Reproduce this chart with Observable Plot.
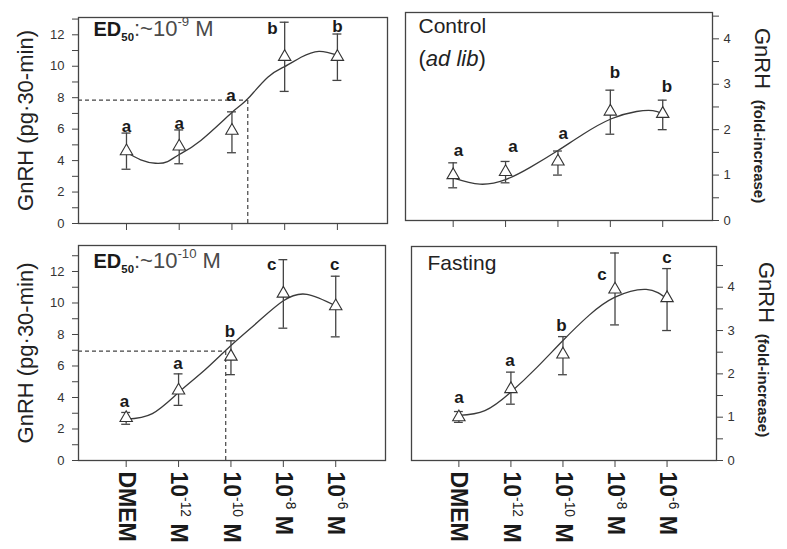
<!DOCTYPE html>
<html><head><meta charset="utf-8">
<script src="https://cdn.jsdelivr.net/npm/d3@7"></script>
<script src="https://cdn.jsdelivr.net/npm/@observablehq/plot@0.6"></script>
<style>
body{margin:0;background:#fff;}
#chart{position:relative;width:787px;height:549px;overflow:hidden;background:#fff;font-family:"Liberation Sans",Arial,sans-serif;}
#chart svg{position:absolute;}
</style></head><body><div id="chart"></div>
<script>
// ---- categories / tick labels ----
const categories = ["DMEM", "10{n.sup:-12} M", "10{n.sup:-10} M", "10{n.sup:-8} M", "10{n.sup:-6} M"];
const catIndex = [0, 1, 2, 3, 4];
const pgTicks = [0, 2, 4, 6, 8, 10, 12];
const pgMinor = [1, 3, 5, 7, 9, 11, 13];
const foldTicks = [0, 1, 2, 3, 4];
const foldMinor = [0.5, 1.5, 2.5, 3.5, 4.5];

// ---- top-left: ad lib, pg/30-min ----
const adlibPgMean = [4.6, 4.9, 5.9, 10.6, 10.6];
const adlibPgHi   = [5.75, 5.95, 7.1, 12.8, 12.05];
const adlibPgLo   = [3.45, 3.8, 4.5, 8.4, 9.1];
const adlibPgLetters = ["a", "a", "a", "b", "b"];
const adlibPgLetterX = [0, 1, 1.98, 2.77, 4];
const adlibPgLetterY = [5.8, 6.0, 7.8, 12.05, 12.15];
const adlibPgCurveX = [0, 0.27, 0.55, 0.78, 1, 1.41, 2.04, 2.3, 2.68, 3.0, 3.31, 3.65, 4];
const adlibPgCurveY = [4.53, 4.05, 3.83, 3.94, 4.39, 5.28, 7.18, 7.93, 9.3, 9.98, 10.57, 10.95, 10.7];
const adlibEd50 = {x: 2.3, y: 7.85};
const adlibPgNote = "{k.b.s20:ED}{k.b.sub:50}:~10{sup:-9} M";

// ---- top-right: ad lib, fold increase ----
const adlibFoldMean = [1.0, 1.07, 1.3, 2.4, 2.35];
const adlibFoldHi   = [1.27, 1.3, 1.53, 2.87, 2.65];
const adlibFoldLo   = [0.72, 0.83, 1.0, 1.9, 2.0];
const adlibFoldLetters = ["a", "a", "a", "b", "b"];
const adlibFoldLetterX = [0.1, 1.14, 2.1, 3.09, 4.08];
const adlibFoldLetterY = [1.43, 1.5, 1.8, 3.13, 2.82];
const adlibFoldCurveX = [0, 0.51, 1, 1.47, 2, 2.48, 3.02, 3.5, 3.81, 4];
const adlibFoldCurveY = [0.94, 0.8, 0.9, 1.17, 1.54, 1.9, 2.24, 2.4, 2.42, 2.35];

// ---- bottom-left: fasting, pg/30-min ----
const fastPgMean = [2.7, 4.45, 6.6, 10.6, 9.8];
const fastPgHi   = [3.05, 5.5, 7.6, 12.75, 11.7];
const fastPgLo   = [2.3, 3.5, 5.45, 8.4, 7.85];
const fastPgLetters = ["a", "a", "b", "c", "c"];
const fastPgLetterX = [-0.03, 0.99, 1.98, 2.78, 3.98];
const fastPgLetterY = [3.37, 5.8, 7.85, 12.1, 12.1];
const fastPgCurveX = [0, 0.5, 1, 1.5, 2, 2.5, 3, 3.45, 4];
const fastPgCurveY = [2.63, 2.98, 4.32, 5.74, 7.3, 8.76, 10.14, 10.55, 9.82];
const fastEd50 = {x: 1.9, y: 6.95};
const fastPgNote = "{k.b.s20:ED}{k.b.sub:50}:~10{sup:-10} M";

// ---- bottom-right: fasting, fold increase ----
const fastFoldMean = [1.0, 1.65, 2.45, 3.95, 3.75];
const fastFoldHi   = [1.13, 2.04, 2.86, 4.79, 4.43];
const fastFoldLo   = [0.88, 1.3, 1.98, 3.13, 3.0];
const fastFoldLetters = ["a", "a", "b", "c", "c"];
const fastFoldLetterX = [0, 0.98, 1.97, 2.75, 4];
const fastFoldLetterY = [1.32, 2.17, 3.0, 4.16, 4.55];
const fastFoldCurveX = [0, 0.5, 1, 1.5, 2, 2.5, 3, 3.6, 4];
const fastFoldCurveY = [1.04, 1.15, 1.58, 2.15, 2.77, 3.35, 3.77, 3.95, 3.73];

const pgTitle = "GnRH (pg·30-min)";
const foldTitle = "GnRH";
const foldSubtitle = "(fold-increase)";

// ---- layout ----
const FONT = '"Liberation Sans", Arial, sans-serif';
const INK = "#333";
const xDomain = [-0.91, 4.95];
const NS = "http://www.w3.org/2000/svg";

function richify(root) {
  root.querySelectorAll("text").forEach(t => {
    const s = t.textContent;
    if (!s.includes("{")) return;
    const F = parseFloat(getComputedStyle(t).fontSize);
    const re = /\{([\w.]*):([^}]*)\}|([^{]+)/g;
    let m, shift = 0;
    while (t.firstChild) t.removeChild(t.firstChild);
    while ((m = re.exec(s))) {
      const ts = document.createElementNS(NS, "tspan");
      const plain = m[3] !== undefined;
      const flags = plain ? [] : m[1].split(".");
      ts.textContent = plain ? m[3] : m[2];
      let target = 0;
      for (const f of flags) {
        if (f === "b") ts.setAttribute("font-weight", "bold");
        else if (f === "n") ts.setAttribute("font-weight", "normal");
        else if (f === "i") ts.setAttribute("font-style", "italic");
        else if (f === "k") ts.setAttribute("fill", "#1a1a1a");
        else if (f === "sup") { ts.setAttribute("font-size", (F * 0.6).toFixed(1)); target = -0.42 * F; }
        else if (f === "sub") { ts.setAttribute("font-size", (F * 0.52).toFixed(1)); target = 0.26 * F; }
        else if (/^s\d+$/.test(f)) ts.setAttribute("font-size", f.slice(1));
      }
      if (target !== shift) { ts.setAttribute("dy", (target - shift).toFixed(1)); shift = target; }
      t.appendChild(ts);
    }
  });
}

function panel(cfg) {
  const pts = catIndex.map((x, i) => ({x, mean: cfg.mean[i], hi: cfg.hi[i], lo: cfg.lo[i]}));
  const curve = cfg.cx.map((x, i) => ({x, y: cfg.cy[i]}));
  const lets = cfg.letters.map((t, i) => ({t, x: cfg.lx[i], y: cfg.ly[i]}));
  const right = cfg.side === "right";
  const marks = [
    Plot.axisY(cfg.majors, {anchor: cfg.side, tickSize: 6, tickPadding: right ? 5 : 8, fontSize: 13,
      stroke: "#444", fill: INK, label: null, tickFormat: d => String(d)}),
    Plot.axisY(cfg.minors, {anchor: cfg.side, tickSize: 6, stroke: "#444", label: null, tickFormat: () => ""}),
    Plot.axisX(catIndex, {anchor: "bottom", tickSize: 7, stroke: "#444", label: null, tickFormat: () => ""}),
  ];
  if (cfg.ed) {
    marks.push(
      Plot.ruleY([cfg.ed], {y: "y", x1: xDomain[0], x2: "x", stroke: "#444", strokeWidth: 1.2, strokeDasharray: "4,3"}),
      Plot.ruleX([cfg.ed], {x: "x", y1: 0, y2: "y", stroke: "#444", strokeWidth: 1.2, strokeDasharray: "4,3"})
    );
  }
  marks.push(
    Plot.line(curve, {x: "x", y: "y", curve: "natural", stroke: "#3a3a3a", strokeWidth: 1.3}),
    Plot.ruleX(pts, {x: "x", y1: "lo", y2: "hi", stroke: "#444", strokeWidth: 1.3}),
    Plot.ruleY(pts, {y: "hi", x1: d => d.x - 0.085, x2: d => d.x + 0.085, stroke: "#444", strokeWidth: 1.3}),
    Plot.ruleY(pts, {y: "lo", x1: d => d.x - 0.085, x2: d => d.x + 0.085, stroke: "#444", strokeWidth: 1.3}),
    Plot.dot(pts, {x: "x", y: "mean", symbol: "triangle", r: 4.6, fill: "white", stroke: "#333", strokeWidth: 1.1}),
    Plot.text(lets, {x: "x", y: "y", text: "t", fontSize: 17, fontWeight: "bold", fill: "#1a1a1a",
      textAnchor: "middle", lineAnchor: "bottom"}),
    Plot.frame({stroke: "#444", strokeWidth: 1.3})
  );
  for (const n of cfg.notes) {
    marks.push(Plot.text([n.text], {frameAnchor: "top-left", dx: n.dx, dy: n.dy, fontSize: n.size || 21,
      fill: n.fill || "#222", textAnchor: "start", lineAnchor: "bottom"}));
  }
  if (right) {
    marks.push(
      Plot.text([foldTitle], {frameAnchor: "right", dx: 50, dy: cfg.titleDy[0], rotate: 90, fontSize: 22,
        fill: "#222", textAnchor: "middle", lineAnchor: "middle"}),
      Plot.text([foldSubtitle], {frameAnchor: "right", dx: 46, dy: cfg.titleDy[1], rotate: 90, fontSize: 15,
        fontWeight: "bold", fill: "#222", textAnchor: "middle", lineAnchor: "middle"})
    );
  } else {
    marks.push(Plot.text([pgTitle], {frameAnchor: "left", dx: -53, dy: 0, rotate: -90, fontSize: 22,
      fill: "#222", textAnchor: "middle", lineAnchor: "middle"}));
  }
  if (cfg.xlabels) {
    marks.push(Plot.text(catIndex, {x: d => d, frameAnchor: "bottom", dy: 11, rotate: 90,
      text: d => categories[d], fontSize: 23, fontWeight: "bold", fill: "#1a1a1a",
      textAnchor: "start", lineAnchor: "middle"}));
  }
  const svg = Plot.plot({
    width: cfg.box.w, height: cfg.box.h,
    marginLeft: cfg.m[0], marginRight: cfg.m[1], marginTop: cfg.m[2], marginBottom: cfg.m[3],
    x: {type: "linear", domain: xDomain},
    y: {type: "linear", domain: cfg.yDomain},
    style: {background: "transparent", fontFamily: FONT, overflow: "visible"},
    marks
  });
  svg.style.left = cfg.box.x + "px";
  svg.style.top = cfg.box.y + "px";
  document.getElementById("chart").appendChild(svg);
  richify(svg);
}

panel({box: {x: 0, y: 0, w: 395, h: 240}, m: [78, 8, 17, 17], yDomain: [0, 13.1], side: "left",
  majors: pgTicks, minors: pgMinor, mean: adlibPgMean, hi: adlibPgHi, lo: adlibPgLo,
  letters: adlibPgLetters, lx: adlibPgLetterX, ly: adlibPgLetterY, cx: adlibPgCurveX, cy: adlibPgCurveY,
  ed: adlibEd50, notes: [{text: adlibPgNote, dx: 15, dy: 18, size: 22, fill: "#4a4a4a"}], xlabels: false});

panel({box: {x: 395, y: 0, w: 392, h: 240}, m: [10, 75, 12, 20], yDomain: [0, 4.58], side: "right",
  majors: foldTicks, minors: foldMinor, mean: adlibFoldMean, hi: adlibFoldHi, lo: adlibFoldLo,
  letters: adlibFoldLetters, lx: adlibFoldLetterX, ly: adlibFoldLetterY, cx: adlibFoldCurveX, cy: adlibFoldCurveY,
  notes: [{text: "Control", dx: 13, dy: 20, size: 21}, {text: "({i:ad lib})", dx: 13, dy: 53, size: 22}],
  titleDy: [-58, 35], xlabels: false});

panel({box: {x: 0, y: 240, w: 395, h: 309}, m: [78, 10, 5, 89], yDomain: [0, 13.65], side: "left",
  majors: pgTicks, minors: pgMinor, mean: fastPgMean, hi: fastPgHi, lo: fastPgLo,
  letters: fastPgLetters, lx: fastPgLetterX, ly: fastPgLetterY, cx: fastPgCurveX, cy: fastPgCurveY,
  ed: fastEd50, notes: [{text: fastPgNote, dx: 15, dy: 22, size: 22, fill: "#4a4a4a"}], xlabels: true});

panel({box: {x: 395, y: 240, w: 392, h: 309}, m: [16, 71, 6, 89], yDomain: [0, 4.94], side: "right",
  majors: foldTicks, minors: foldMinor, mean: fastFoldMean, hi: fastFoldHi, lo: fastFoldLo,
  letters: fastFoldLetters, lx: fastFoldLetterX, ly: fastFoldLetterY, cx: fastFoldCurveX, cy: fastFoldCurveY,
  notes: [{text: "Fasting", dx: 16, dy: 23, size: 21}],
  titleDy: [-61, 32], xlabels: true});
</script>
</body></html>
